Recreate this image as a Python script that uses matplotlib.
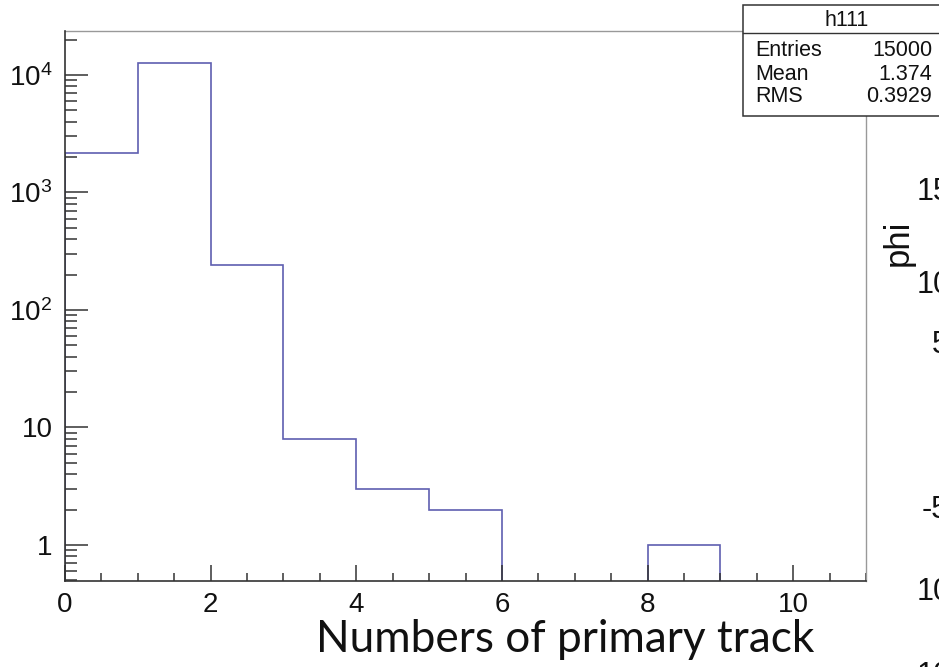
import matplotlib
matplotlib.use('Agg')
import matplotlib.pyplot as plt
from matplotlib.ticker import FixedLocator, FixedFormatter, MultipleLocator, LogLocator, NullFormatter
from matplotlib.patches import Rectangle
from matplotlib.lines import Line2D

# ---------------- data ----------------
bin_edges = [0, 1, 2, 3, 4, 5, 6, 7, 8, 9, 10, 11]
counts = [2170, 12576, 240, 8, 3, 2, 0, 0, 1, 0, 0]
x_ticks = [0, 2, 4, 6, 8, 10]
x_tick_labels = ['0', '2', '4', '6', '8', '10']
y_ticks = [1, 10, 100, 1000, 10000]
y_tick_labels = ['1', '10', r'$\mathregular{10^{2}}$', r'$\mathregular{10^{3}}$', r'$\mathregular{10^{4}}$']
stats_title = 'h111'
stats_names = ['Entries', 'Mean', 'RMS']
stats_values = ['15000', '1.374', '0.3929']
x_label = 'Numbers of primary track'
side_label = 'phi'
side_ticks = ['15', '10', '5', '-5', '10', '10']

# ---------------- style ----------------
plt.rcParams['font.family'] = ['Liberation Sans', 'DejaVu Sans']
plt.rcParams['mathtext.fontset'] = 'custom'
plt.rcParams['mathtext.rm'] = 'Liberation Sans'
plt.rcParams['mathtext.it'] = 'Liberation Sans:italic'

W, H = 939, 667
fig = plt.figure(figsize=(W / 100, H / 100), dpi=100)
fig.patch.set_facecolor('white')

ax = fig.add_axes([65 / W, (H - 581) / H, (866 - 65) / W, (581 - 31) / H])
ax.set_yscale('log')
ax.set_xlim(bin_edges[0], bin_edges[-1])
ymin, ymax = 0.494, 23650
ax.set_ylim(ymin, ymax)

line_color = '#5f5fb0'
# draw contiguous non-empty runs as stairs
i = 0
n = len(counts)
while i < n:
    if counts[i] > 0:
        j = i
        while j < n and counts[j] > 0:
            j += 1
        ax.stairs(counts[i:j], bin_edges[i:j + 1], baseline=ymin,
                  color=line_color, lw=1.2, fill=False, zorder=1)
        i = j
    else:
        i += 1

# spines
dark = '#333333'
for s in ['left', 'bottom']:
    ax.spines[s].set_color(dark)
    ax.spines[s].set_linewidth(1.2)
    ax.spines[s].set_zorder(5)
for s in ['top', 'right']:
    ax.spines[s].set_color('#999999')
    ax.spines[s].set_linewidth(1.0)

# ticks
ax.xaxis.set_major_locator(FixedLocator(x_ticks))
ax.xaxis.set_major_formatter(FixedFormatter(x_tick_labels))
ax.xaxis.set_minor_locator(MultipleLocator(0.5))
ax.yaxis.set_major_locator(FixedLocator(y_ticks))
ax.yaxis.set_major_formatter(FixedFormatter(y_tick_labels))
ax.yaxis.set_minor_locator(LogLocator(base=10, subs=[2, 3, 4, 5, 6, 7, 8, 9], numticks=20))
ax.yaxis.set_minor_formatter(NullFormatter())

ax.tick_params(axis='x', which='major', direction='in', length=11.5, width=1.1,
               color=dark, labelsize=20, pad=8, top=False, labelcolor='#111111')
ax.tick_params(axis='x', which='minor', direction='in', length=6, width=1.1,
               color=dark, top=False)
ax.tick_params(axis='y', which='major', direction='in', length=16.5, width=1.1,
               color=dark, labelsize=20, pad=9, right=False, labelcolor='#111111')
ax.tick_params(axis='y', which='minor', direction='in', length=8.5, width=1.1,
               color=dark, right=False)

# x label (offset, Calibri-like)
fig.text(565 / W, 1 - 652 / H, x_label, ha='center', va='baseline',
         fontsize=31.8, family=['Lato', 'DejaVu Sans'], color='#111111')

# stats box
bx0, by0, bx1, by1 = 743, 5, 948, 116
fig.add_artist(Rectangle((bx0 / W, 1 - by1 / H), (bx1 - bx0) / W, (by1 - by0) / H,
                         transform=fig.transFigure, facecolor='white',
                         edgecolor=dark, lw=1.1, zorder=10))
fig.add_artist(Line2D([bx0 / W, bx1 / W], [1 - 33 / H, 1 - 33 / H],
                      transform=fig.transFigure, color=dark, lw=1.0, zorder=11))
fig.text(847 / W, 1 - 20 / H, stats_title, ha='center', va='center',
         fontsize=15.5, zorder=12, color='#111111')
for k, (nm, val) in enumerate(zip(stats_names, stats_values)):
    yy = 51 + k * 23
    fig.text(755 / W, 1 - yy / H, nm, ha='left', va='center', fontsize=15.5,
             zorder=12, color='#111111')
    fig.text(932 / W, 1 - yy / H, val, ha='right', va='center', fontsize=15.5,
             zorder=12, color='#111111')

# partial neighbouring panel on the right (cut by the picture edge, as in the reference)
fig.text(898 / W, 1 - 243 / H, side_label, rotation=90, ha='center', va='center',
         fontsize=25, color='#111111')
side_pos = [(917, 192), (917, 285), (932, 345), (922, 510), (917, 592), (917, 676)]
for txt, (px, py) in zip(side_ticks, side_pos):
    fig.text(px / W, 1 - py / H, txt, ha='left', va='center', fontsize=22,
             color='#111111')

fig.savefig('out.png', dpi=100, facecolor='white')
